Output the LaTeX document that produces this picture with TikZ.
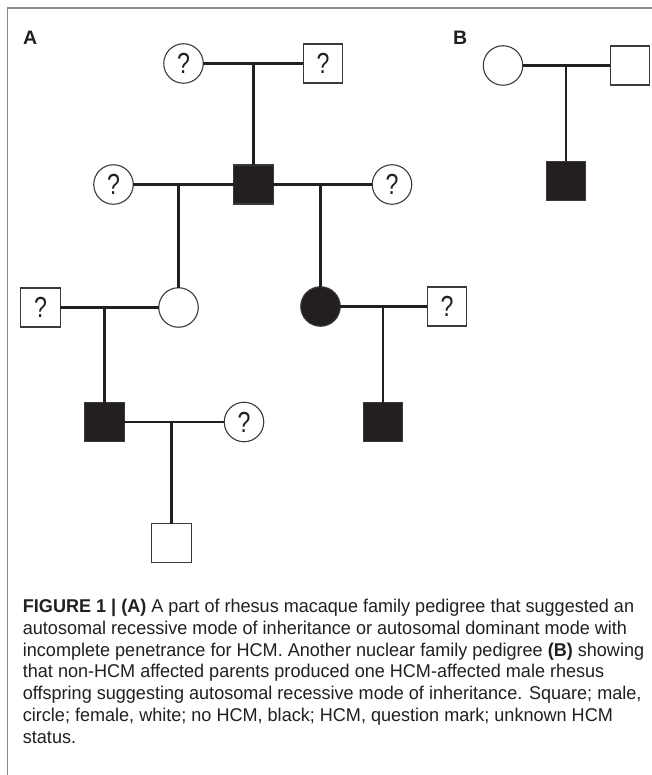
\documentclass[tikz,border=0pt]{standalone}
\usepackage{fontspec}
\setmainfont{Liberation Sans}
\newfontfamily\capfont[FakeStretch=0.976]{Liberation Sans}
\newfontfamily\qfont[FakeStretch=0.8]{Liberation Sans}
\definecolor{inkc}{HTML}{231F20}
\definecolor{framec}{HTML}{8A8A8A}
\definecolor{outc}{HTML}{3A3A3A}
\begin{document}
\begin{tikzpicture}[x=1pt,y=-1pt,
  sym/.style={draw=outc, line width=1.1pt, inner sep=0pt, outer sep=0pt, fill=white},
  fem/.style={sym, circle, minimum size=39.5pt},
  mal/.style={sym, rectangle, minimum width=39.5pt, minimum height=39pt},
  aff/.style={fill=inkc},
  unk/.style={font=\qfont\fontsize{29}{29}\selectfont, text=inkc},
  link/.style={draw=inkc, line width=2.4pt},
  panel/.style={font=\bfseries\fontsize{19.5}{19.5}\selectfont, anchor=base west, inner sep=0pt, text=inkc},
  capline/.style={font=\capfont\fontsize{18.5}{22}\selectfont, anchor=base west, inner sep=0pt, text=inkc}
]
\useasboundingbox (0,0) rectangle (652,775);
\fill[white] (0,0) rectangle (652,775);
% frame
\coordinate (fb) at (7.5,775);
\coordinate (fc) at (7.5,8);
\coordinate (fr) at (652,8);
\draw[framec, line width=1.4pt] (fb) -- (fc) -- (fr);

% panel labels
\node[panel] (lA) at (23,44.5) {A};
\node[panel] (lB) at (453,44.5) {B};

% ---------- Pedigree A ----------
% generation I
\node[fem, unk] (c1) at (183.5,63.5) {?};
\node[mal, unk] (s1) at (323,63.5) {?};
% generation II
\node[fem, unk] (c2) at (113.5,184.5) {?};
\node[mal, aff] (S2) at (253.5,184.5) {};
\node[fem, unk] (c3) at (392,184.5) {?};
% generation III
\node[mal, unk] (s3) at (40.5,307.5) {?};
\node[fem] (c4) at (178.5,307.5) {};
\node[fem, aff] (c5) at (320.5,306.5) {};
\node[mal, unk] (s4) at (447,306.5) {?};
% generation IV
\node[mal, aff] (S5) at (104.5,422) {};
\node[fem, unk] (c6) at (244,422) {?};
\node[mal, aff] (S6) at (383,422) {};
% generation V
\node[mal] (s7) at (171.5,543) {};

% marriage midpoints
\coordinate (m1) at (253.5,63.5);
\coordinate (m2) at (178.5,184.5);
\coordinate (m3) at (320.5,184.5);
\coordinate (m4) at (104.5,307.5);
\coordinate (m5) at (383,306.5);
\coordinate (m6) at (171.5,422);

\draw[link] (c1) -- (s1);
\draw[link] (m1) -- (S2.north);
\draw[link] (c2) -- (S2);
\draw[link] (S2) -- (c3);
\draw[link] (m2) -- (c4.north);
\draw[link] (m3) -- (c5.north);
\draw[link] (s3) -- (c4);
\draw[link] (c5) -- (s4);
\draw[link] (m4) -- (S5.north);
\draw[link] (m5) -- (S6.north);
\draw[link] (S5) -- (c6);
\draw[link] (m6) -- (s7.north);

% ---------- Pedigree B ----------
\node[fem] (cB) at (503,65.5) {};
\node[mal] (sB) at (630,65.5) {};
\node[mal, aff] (SB) at (566,181) {};
\coordinate (mB) at (566,65.5);
\draw[link] (cB) -- (sB);
\draw[link] (mB) -- (SB.north);

% ---------- caption ----------
\node[capline] (k1) at (22.7,612.5) {\textbf{FIGURE 1 | (A)} A part of rhesus macaque family pedigree that suggested an};
\node[capline] (k2) at (22.7,634.3) {autosomal recessive mode of inheritance or autosomal dominant mode with};
\node[capline] (k3) at (22.7,656.1) {incomplete penetrance for HCM. Another nuclear family pedigree \textbf{(B)} showing};
\node[capline] (k4) at (22.7,677.9) {that non-HCM affected parents produced one HCM-affected male rhesus};
\node[capline] (k5) at (22.7,699.7) {offspring suggesting autosomal recessive mode of inheritance. Square; male,};
\node[capline] (k6) at (22.7,721.5) {circle; female, white; no HCM, black; HCM, question mark; unknown HCM};
\node[capline] (k7) at (22.7,743.3) {status.};
\end{tikzpicture}
\end{document}
